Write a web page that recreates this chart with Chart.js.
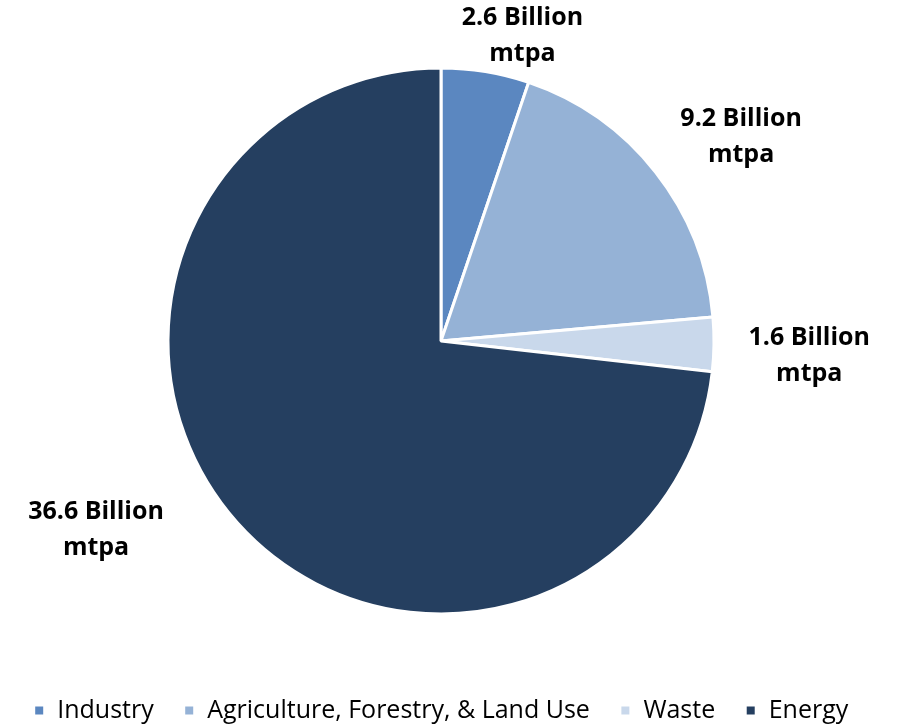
<!DOCTYPE html>
<html>
<head>
<meta charset="utf-8">
<script src="https://cdn.jsdelivr.net/npm/chart.js@4/dist/chart.umd.min.js"></script>
<style>
  html, body { margin: 0; padding: 0; background: #ffffff; overflow: hidden; }
  #wrap { width: 902px; height: 724px; position: relative; overflow: hidden; }
</style>
</head>
<body>
<div id="wrap"><canvas id="c" width="902" height="733"></canvas></div>
<script>
const categories = ["Industry", "Agriculture, Forestry, & Land Use", "Waste", "Energy"];
const values = [2.6, 9.2, 1.6, 36.6];
const valueLabels = [["2.6 Billion", "mtpa"], ["9.2 Billion", "mtpa"], ["1.6 Billion", "mtpa"], ["36.6 Billion", "mtpa"]];
const colors = ["#5B87C0", "#95B2D6", "#C9D8EB", "#253F60"];

// label placement styling: angle shift (deg) from slice mid-angle, radius factor
const labelPlacement = [
  { dAngle: 5.6, rFactor: 1.155 },
  { dAngle: 3.9, rFactor: 1.33 },
  { dAngle: 1.6, rFactor: 1.35 },
  { dAngle: 13.1, rFactor: 1.44 }
];

const outsideLabels = {
  id: 'outsideLabels',
  afterDatasetsDraw(chart) {
    const { ctx } = chart;
    const meta = chart.getDatasetMeta(0);
    ctx.save();
    ctx.font = "bold 25px 'Open Sans', sans-serif";
    ctx.fillStyle = "#000000";
    ctx.textAlign = "center";
    ctx.textBaseline = "middle";
    meta.data.forEach((arc, i) => {
      const p = arc.getProps(['x', 'y', 'startAngle', 'endAngle', 'outerRadius'], true);
      const mid = (p.startAngle + p.endAngle) / 2 + labelPlacement[i].dAngle * Math.PI / 180;
      const r = p.outerRadius * labelPlacement[i].rFactor;
      const cx = p.x + Math.cos(mid) * r;
      const cy = p.y + Math.sin(mid) * r;
      const lines = valueLabels[i];
      const lh = 36;
      lines.forEach((t, k) => {
        ctx.fillText(t, cx, cy + (k - (lines.length - 1) / 2) * lh);
      });
    });
    ctx.restore();
  }
};

new Chart(document.getElementById('c'), {
  type: 'pie',
  data: {
    labels: categories,
    datasets: [{
      data: values,
      backgroundColor: colors,
      borderColor: "#ffffff",
      borderWidth: 3
    }]
  },
  options: {
    responsive: false,
    animation: false,
    radius: 273,
    layout: { padding: { top: 14, left: 0, right: 20, bottom: 0 } },
    plugins: {
      legend: {
        position: 'bottom',
        labels: {
          boxWidth: 11,
          boxHeight: 11,
          padding: 30,
          color: '#000000',
          font: { family: "'Open Sans', sans-serif", size: 25 }
        }
      },
      tooltip: { enabled: false }
    }
  },
  plugins: [outsideLabels]
});
</script>
</body>
</html>
